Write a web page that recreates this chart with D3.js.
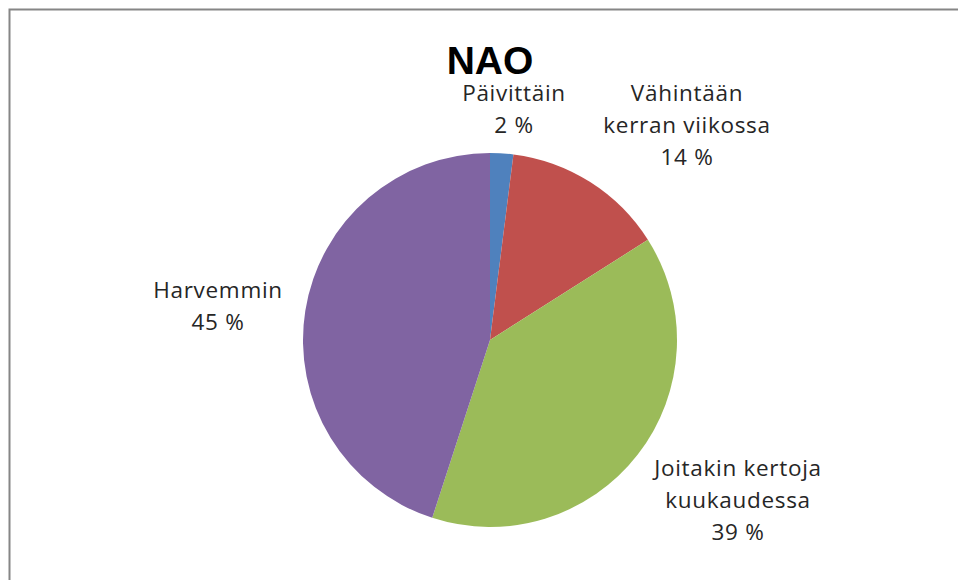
<!DOCTYPE html>
<html><head><meta charset="utf-8">
<script src="https://cdn.jsdelivr.net/npm/d3@7"></script>
<style>html,body{margin:0;padding:0;background:#fff;overflow:hidden}</style>
</head><body>
<svg id="chart" width="958" height="580"></svg>
<script>
const categories = ["Päivittäin", "Vähintään kerran viikossa", "Joitakin kertoja kuukaudessa", "Harvemmin"];
const values = [2, 14, 39, 45];
const labelLines = [["Päivittäin", "2 %"], ["Vähintään", "kerran viikossa", "14 %"], ["Joitakin kertoja", "kuukaudessa", "39 %"], ["Harvemmin", "45 %"]];
const colors = ["#4F81BD", "#C0504D", "#9BBB59", "#8064A2"];
const title = "NAO";
// label anchor: [x offset from centre, y of first baseline offset]
const labelAnchors = [[24, -239], [197, -239], [248, 136], [-272, -42]];

const svg = d3.select("#chart");
const cx = 490, cy = 340, r = 187;

svg.append("rect").attr("x", 9.5).attr("y", 9.5).attr("width", 1200).attr("height", 1200)
  .attr("fill", "#fff").attr("stroke", "#868686").attr("stroke-width", 2);

svg.append("text").attr("x", cx).attr("y", 74).attr("text-anchor", "middle")
  .attr("font-family", "Liberation Sans, Arial, sans-serif").attr("font-weight", "bold")
  .attr("font-size", 39).attr("fill", "#000").text(title);

const pie = d3.pie().sort(null).value(d => d);
const arc = d3.arc().innerRadius(0).outerRadius(r);
const color = d3.scaleOrdinal().domain(categories).range(colors);
const g = svg.append("g").attr("transform", `translate(${cx},${cy})`);
g.selectAll("path").data(pie(values)).join("path")
  .attr("d", arc).attr("fill", (d, i) => color(categories[i]));

const lab = g.selectAll("text.lab").data(labelLines).join("text").attr("class", "lab")
  .attr("text-anchor", "middle").attr("font-family", "Open Sans, sans-serif")
  .attr("font-size", 22.5).attr("letter-spacing", 0.7).attr("fill", "#262626");
lab.each(function(lines, i) {
  const t = d3.select(this);
  lines.forEach((s, j) => {
    t.append("tspan").attr("x", labelAnchors[i][0]).attr("y", labelAnchors[i][1] + j * 32).text(s);
  });
});
</script>
</body></html>
